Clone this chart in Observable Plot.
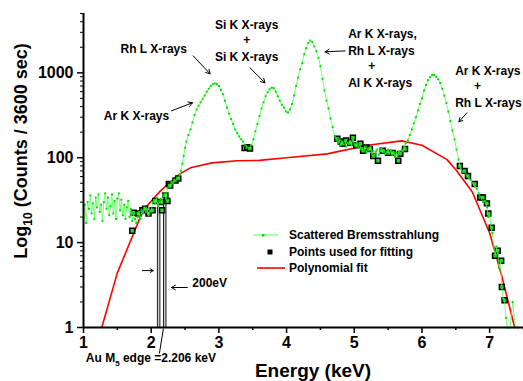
<!DOCTYPE html>
<html><head><meta charset="utf-8">
<script src="https://cdn.jsdelivr.net/npm/d3@7"></script>
<script src="https://cdn.jsdelivr.net/npm/@observablehq/plot@0.6"></script>
<style>
body{margin:0;background:#fff;}
svg text{font-family:"Liberation Sans",Arial,sans-serif;font-weight:bold;}
</style></head>
<body><div id="chart"></div>
<script>
// Scattered Bremsstrahlung spectrum
const specE = [1.00,1.02,1.04,1.06,1.08,1.10,1.12,1.14,1.16,1.18,1.20,1.22,1.24,1.26,1.28,1.30,1.32,1.34,1.36,1.38,1.40,1.42,1.44,1.46,1.48,1.50,1.52,1.54,1.56,1.58,1.60,1.62,1.64,1.66,1.68,1.70,1.72,1.74,1.76,1.78,1.80,1.82,1.84,1.86,1.88,1.90,1.92,1.94,1.96,1.98,2.00,2.02,2.04,2.06,2.08,2.10,2.12,2.14,2.16,2.18,2.20,2.22,2.24,2.26,2.28,2.30,2.32,2.34,2.36,2.38,2.40,2.42,2.44,2.46,2.48,2.50,2.52,2.55,2.58,2.61,2.64,2.67,2.70,2.73,2.76,2.79,2.82,2.85,2.88,2.91,2.94,2.97,3.00,3.03,3.06,3.09,3.12,3.15,3.18,3.21,3.24,3.27,3.30,3.33,3.36,3.39,3.42,3.45,3.48,3.51,3.54,3.57,3.60,3.63,3.66,3.69,3.72,3.75,3.78,3.81,3.84,3.87,3.90,3.93,3.96,3.99,4.02,4.05,4.08,4.11,4.14,4.17,4.20,4.23,4.26,4.29,4.32,4.35,4.38,4.41,4.44,4.47,4.50,4.53,4.56,4.59,4.62,4.65,4.68,4.71,4.74,4.76,4.78,4.80,4.82,4.84,4.86,4.88,4.90,4.92,4.94,4.96,4.98,5.00,5.02,5.04,5.06,5.08,5.10,5.12,5.14,5.16,5.18,5.20,5.22,5.24,5.26,5.28,5.30,5.32,5.34,5.36,5.38,5.40,5.42,5.44,5.46,5.48,5.50,5.52,5.54,5.56,5.58,5.60,5.62,5.64,5.66,5.68,5.70,5.72,5.74,5.76,5.79,5.82,5.85,5.88,5.91,5.94,5.97,6.00,6.03,6.06,6.09,6.12,6.15,6.18,6.21,6.24,6.27,6.30,6.33,6.36,6.39,6.42,6.45,6.48,6.51,6.54,6.57,6.60,6.63,6.66,6.69,6.72,6.75,6.78,6.81,6.84,6.87,6.90,6.93,6.96,6.98,7.00,7.02,7.04,7.06,7.08,7.10,7.12,7.14,7.16,7.18,7.20,7.22,7.24,7.26,7.30,7.34,7.38,7.42];
const specC = [20,28,17,30,25,36,22,29,19,34,26,37,23,28,18,30,38,25,34,21,27,37,22,31,19,33,38,24,32,21,28,19,26,31,20,25,18,22,19,17,20,23,19,24,22,26,23,25,21,24,23,30,32,29,34,27,31,33,29,36,38,33,44,48,45,52,50,55,53,58,56,62,70,85,105,131,155,185,215,260,320,370,410,450,490,540,600,650,700,735,750,740,700,630,560,470,390,330,285,250,215,195,178,165,155,140,132,128,140,165,205,250,310,380,450,530,590,640,670,660,600,530,470,420,390,350,340,370,430,540,700,880,1100,1300,1650,1950,2250,2400,2300,2050,1800,1500,1200,850,620,470,380,290,230,180,160,150,165,140,155,145,160,135,150,145,158,140,165,145,135,150,130,145,125,130,120,135,115,128,122,135,112,120,105,118,125,108,120,128,115,122,110,118,125,112,120,108,118,102,115,105,118,112,125,120,135,148,160,185,215,255,300,360,430,500,620,720,820,890,950,940,900,840,760,650,540,440,350,270,210,165,125,95,75,68,70,62,58,55,50,46,43,38,34,30,31,26,20,22,15,13,9,7,9,7.5,5,6,3,2.2,2.1,1.3,1,1,2,1,1];

// Points used for fitting
const fitE = [1.72,1.74,1.81,1.87,1.91,1.96,2.02,2.06,2.14,2.16,2.21,2.24,2.26,2.28,2.36,2.40,3.38,3.42,3.46,4.75,4.80,4.83,4.88,4.94,4.98,5.03,5.09,5.13,5.18,5.23,5.28,5.35,5.42,5.50,5.57,5.65,5.68,5.75,6.56,6.63,6.68,6.78,6.86,6.90,6.96,6.98,7.03,7.08,7.12,7.17,7.18,7.22];
const fitC = [13.8,22.5,22,24,25,22,24,31,30,24,36,31,49,47,54,57,130,133,128,167,155,146,160,150,172,140,146,121,132,127,105,92,121,114,114,92,111,127,80,70,61,49,34,34,29,22,15,7,8,6.1,3,2.1];

// Polynomial fit
const polyE = [1.27,1.50,1.88,2.14,2.43,2.58,2.90,3.27,3.60,4.00,4.60,5.20,5.70,6.00,6.37,6.50,6.74,7.00,7.18,7.37];
const polyC = [1,4.4,24,41,65,76,87,92,93,100,111,140,158,140,95,72,40,13,4,1];

// Edge drop lines
const edgeE = [2.11, 2.20];
const edgeTop = [26, 33];

// Annotation texts
const annoText = ["Rh L X-rays","Ar K X-rays","Si K X-rays","+","Si K X-rays","Ar K X-rays,","Rh L X-rays","+","Al K X-rays","Ar K X-rays","+","Rh L X-rays","200eV"];
const annoE    = [1.546,1.30,3.41,3.41,3.41,4.91,4.91,5.26,4.91,6.49,6.82,6.49,2.608];
const annoC    = [1915,312,3670,2445,1543,2877,1815,1209,763,1056,703,444,3.29];
const annoAnchor = ["start","start","middle","middle","middle","start","start","middle","start","start","middle","start","start"];

// Annotation arrows
const arrE1 = [2.62,2.30,3.46,4.864,6.664,1.870,2.534];
const arrC1 = [1585,357,1145,1815,338,4.68,2.96];
const arrE2 = [2.87,2.61,3.68,4.569,6.546,2.032,2.298];
const arrC2 = [973,444,763,1767,265,4.68,2.96];

const spectrum = specE.map((e,i)=>({e, c: specC[i]}));
const fit = fitE.map((e,i)=>({e, c: fitC[i]}));
const poly = polyE.map((e,i)=>({e, c: polyC[i]}));
const edges = edgeE.map((e,i)=>({e, top: edgeTop[i]}));
const annos = annoText.map((t,i)=>({t, e: annoE[i], c: annoC[i], a: annoAnchor[i]}));
const arrows = arrE1.map((e,i)=>({x1:e, y1:arrC1[i], x2:arrE2[i], y2:arrC2[i]}));

const majorX = [1,2,3,4,5,6,7];
const minorX = [1.5,2.5,3.5,4.5,5.5,6.5,7.5];
const majorY = [1,10,100,1000];
const minorY = [];
for (const d of [1,10,100,1000]) for (let k=2;k<=9;k++) if (d*k<=5000) minorY.push(d*k);

const plot = Plot.plot({
  width: 523, height: 381,
  marginLeft: 83, marginRight: 0, marginTop: 13, marginBottom: 54,
  x: {domain: [1, 7.5]},
  y: {type: "log", domain: [1, 5000]},
  style: {background: "white", color: "black"},
  marks: [
    Plot.axisX({ticks: majorX, tickSize: 6, tickPadding: 3, fontSize: 16, tickFormat: d3.format("d"), label: null, strokeWidth: 1.5}),
    Plot.axisX({ticks: minorX, tickSize: 3, tickFormat: () => "", label: null, strokeWidth: 1.5}),
    Plot.axisY({ticks: majorY, tickSize: 6, tickPadding: 4, fontSize: 16, tickFormat: d3.format("d"), label: null, strokeWidth: 1.5}),
    Plot.axisY({ticks: minorY, tickSize: 3, tickFormat: () => "", label: null, strokeWidth: 1}),
    Plot.ruleX(edges, {x: "e", y1: 1, y2: "top", stroke: "#222", strokeWidth: 3.5}),
    Plot.ruleX(edges, {x: "e", y1: 1, y2: "top", stroke: "#c8c8c8", strokeWidth: 1.5}),
    Plot.line(poly, {x: "e", y: "c", stroke: "#ff0000", strokeWidth: 1.6}),
    Plot.dot(fit, {x: "e", y: "c", symbol: "square", r: 2.8, fill: "#22dd22", stroke: "black", strokeWidth: 1.5}),
    Plot.line(spectrum, {x: "e", y: "c", stroke: "#55ff55", strokeWidth: 0.8}),
    Plot.dot(spectrum, {x: "e", y: "c", symbol: "square", r: 1.1, fill: "#00e000", stroke: "none"}),
    Plot.ruleX([1], {y1: 1, y2: 5000, stroke: "black", strokeWidth: 2}),
    Plot.ruleY([1], {x1: 1, x2: 7.5, stroke: "black", strokeWidth: 2}),
    Plot.arrow(arrows, {x1: "x1", y1: "y1", x2: "x2", y2: "y2", stroke: "black", strokeWidth: 1, headLength: 7}),
    Plot.link([{x1: 2.121, y1: 0.494, x2: 2.18, y2: 0.97}], {x1: "x1", y1: "y1", x2: "x2", y2: "y2", stroke: "black", strokeWidth: 1}),
    Plot.text(annos.filter(d=>d.a==="start"), {x: "e", y: "c", text: "t", textAnchor: "start", fontSize: 12, fill: "black"}),
    Plot.text(annos.filter(d=>d.a==="middle"), {x: "e", y: "c", text: "t", textAnchor: "middle", fontSize: 12, fill: "black"})
  ]
});
document.getElementById("chart").appendChild(plot);

const svg = d3.select(plot);
const sx = plot.scale("x"), sy = plot.scale("y");

// y-axis title
const yt = svg.append("text").attr("transform", "translate(27,151) rotate(-90)")
  .attr("text-anchor", "middle").attr("font-size", 18).attr("fill", "black");
yt.append("tspan").text("Log");
yt.append("tspan").attr("font-size", 12).attr("dy", 5).text("10");
yt.append("tspan").attr("dy", -5).text(" (Counts / 3600 sec)");

// x-axis title
svg.append("text").attr("x", 313).attr("y", 377).attr("text-anchor", "middle")
  .attr("font-size", 19).attr("fill", "black").text("Energy (keV)");

// Au M5 edge label
const au = svg.append("text").attr("x", sx.apply(2.003)).attr("y", sy.apply(1) + 35)
  .attr("text-anchor", "middle").attr("font-size", 12).attr("fill", "black");
au.append("tspan").text("Au M");
au.append("tspan").attr("font-size", 8).attr("dy", 4).text("5");
au.append("tspan").attr("dy", -4).text(" edge =2.206 keV");

// Legend
const lg = svg.append("g");
lg.append("line").attr("x1", 253).attr("x2", 278).attr("y1", 235).attr("y2", 235).attr("stroke", "#55ff55").attr("stroke-width", 1);
lg.append("rect").attr("x", 262).attr("y", 234).attr("width", 2.5).attr("height", 2.5).attr("fill", "#00e000");
lg.append("rect").attr("x", 267.5).attr("y", 249.5).attr("width", 5).attr("height", 5).attr("fill", "black");
lg.append("line").attr("x1", 257).attr("x2", 285).attr("y1", 268).attr("y2", 268).attr("stroke", "#ff0000").attr("stroke-width", 1.6);
const legTexts = ["Scattered Bremsstrahlung", "Points used for fitting", "Polynomial fit"];
[235, 252, 268].forEach((y, i) => {
  lg.append("text").attr("x", 289).attr("y", y).attr("dy", "0.35em").attr("text-anchor", "start")
    .attr("font-size", 12).attr("fill", "black").text(legTexts[i]);
});
</script></body></html>
